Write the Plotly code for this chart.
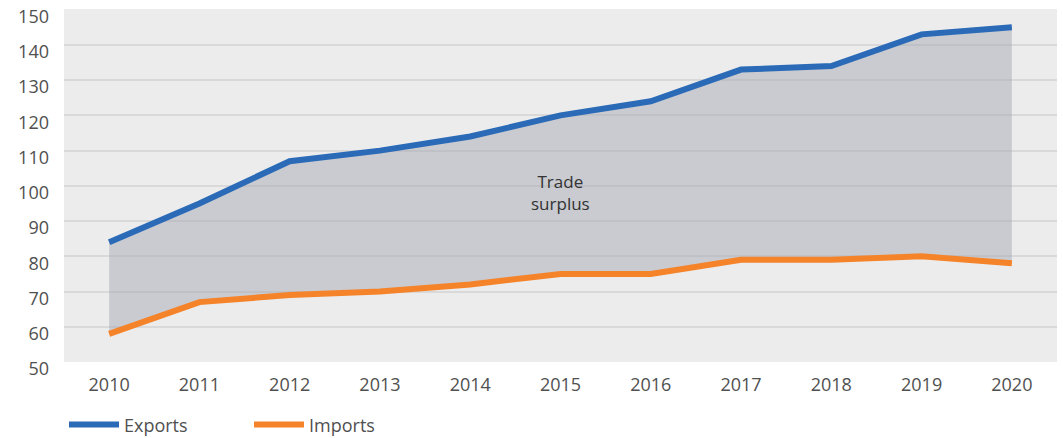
import plotly.graph_objects as go

years = [2010, 2011, 2012, 2013, 2014, 2015, 2016, 2017, 2018, 2019, 2020]
exports = [84, 95, 107, 110, 114, 120, 124, 133, 134, 143, 145]
imports = [58, 67, 69, 70, 72, 75, 75, 79, 79, 80, 78]
y_ticks = [50, 60, 70, 80, 90, 100, 110, 120, 130, 140, 150]

FONT = "Open Sans, Roboto, Liberation Sans, sans-serif"
TEXT = "#505050"
tick_font = dict(family=FONT, size=18, color=TEXT)

fig = go.Figure()
fig.add_trace(go.Scatter(
    x=years, y=exports, name="Exports", mode="lines",
    line=dict(color="#2a6ab7", width=6),
))
# shaded band between exports and imports (no legend entry of its own)
fig.add_trace(go.Scatter(
    x=years, y=imports, mode="lines", showlegend=False, hoverinfo="skip",
    line=dict(width=0, color="rgba(0,0,0,0)"),
    fill="tonexty", fillcolor="rgba(160,165,175,0.45)",
))
fig.add_trace(go.Scatter(
    x=years, y=imports, name="Imports", mode="lines",
    line=dict(color="#f5832a", width=6),
))

fig.add_annotation(
    x=2015, y=98, text="Trade<br>surplus", showarrow=False,
    font=dict(family=FONT, size=17, color="#333333"),
)

fig.update_layout(
    width=1063, height=438,
    margin=dict(l=64, r=6, t=9, b=76, autoexpand=False),
    paper_bgcolor="white", plot_bgcolor="#ececec",
    font=tick_font,
    showlegend=True,
    legend=dict(
        orientation="h", traceorder="normal",
        x=0, xanchor="left", yref="container", y=0.03, yanchor="middle",
        font=tick_font, entrywidth=120, itemwidth=50,
    ),
    xaxis=dict(
        range=[2009.5, 2020.5], tickvals=years, ticktext=[str(y) for y in years],
        showgrid=False, zeroline=False, ticks="", ticklabelstandoff=10,
        tickfont=tick_font, automargin=False,
    ),
    yaxis=dict(
        range=[50, 150.2], tickvals=y_ticks, showgrid=True, gridcolor="#d9d9d9",
        gridwidth=1.5, zeroline=False, ticks="", ticklabelstandoff=14,
        ticklabelshift=7,
        tickfont=tick_font, automargin=False,
    ),
)

fig.write_html("out.html")
